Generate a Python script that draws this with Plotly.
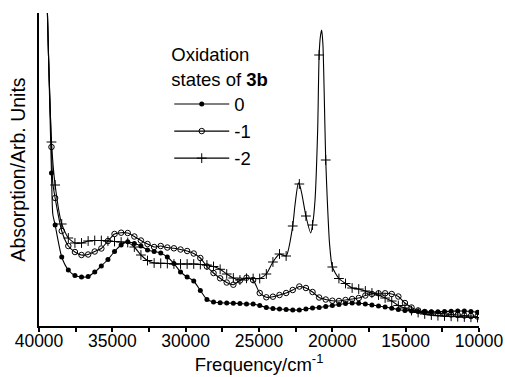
import plotly.graph_objects as go

# Frequencies (cm^-1) at which the curves are sampled (marker positions)
freq = [39800, 39150, 38900, 38450, 38000, 37550, 37100, 36650, 36200, 35750,
        35300, 34850, 34400, 33950, 33500, 33050, 32600, 32150, 31700, 31250,
        30800, 30350, 29900, 29450, 29000, 28550, 28100, 27650, 27200, 26750,
        26300, 25850, 25400, 24950, 24500, 24050, 23600, 23150, 22700, 22250,
        21800, 21350, 20900, 20450, 20000, 19550, 19100, 18650, 18200, 17750,
        17300, 16850, 16400, 15950, 15500, 15050, 14600, 14150, 13700, 13250,
        12800, 12350, 11900, 11450, 11000, 10550, 10100]

# Oxidation state 0
abs_0 = [5.26, 1.53, 1.01, 0.69, 0.56, 0.505, 0.49, 0.495, 0.54, 0.60,
         0.665, 0.745, 0.81, 0.843, 0.825, 0.80, 0.76, 0.745, 0.73, 0.69,
         0.625, 0.54, 0.49, 0.45, 0.355, 0.265, 0.24, 0.233, 0.23, 0.227,
         0.225, 0.22, 0.22, 0.205, 0.185, 0.175, 0.17, 0.165, 0.16, 0.16,
         0.17, 0.18, 0.185, 0.195, 0.205, 0.215, 0.225, 0.23, 0.227, 0.22,
         0.21, 0.20, 0.19, 0.177, 0.165, 0.155, 0.15, 0.145, 0.143, 0.143,
         0.143, 0.145, 0.148, 0.15, 0.15, 0.145, 0.137]
# Oxidation state -1
abs_1 = [5.26, 1.79, 1.28, 0.95, 0.80, 0.74, 0.71, 0.715, 0.745, 0.775,
         0.85, 0.92, 0.933, 0.93, 0.895, 0.855, 0.82, 0.79, 0.80, 0.785,
         0.777, 0.765, 0.75, 0.725, 0.68, 0.595, 0.53, 0.477, 0.435, 0.413,
         0.455, 0.483, 0.46, 0.33, 0.287, 0.293, 0.31, 0.33, 0.36, 0.395,
         0.38, 0.34, 0.285, 0.265, 0.253, 0.25, 0.26, 0.27, 0.28, 0.305,
         0.32, 0.327, 0.327, 0.32, 0.295, 0.23, 0.185, 0.155, 0.14, 0.133,
         0.127, 0.12, 0.115, 0.11, 0.105, 0.10, 0.095]
# Oxidation state -2
abs_2 = [5.26, 1.84, 1.41, 1.02, 0.88, 0.83, 0.83, 0.85, 0.855, 0.855,
         0.85, 0.845, 0.84, 0.835, 0.79, 0.71, 0.655, 0.63, 0.627, 0.625,
         0.62, 0.62, 0.62, 0.62, 0.615, 0.61, 0.595, 0.567, 0.52, 0.48,
         0.46, 0.477, 0.475, 0.475, 0.52, 0.64, 0.72, 0.70, 1.00, 1.42,
         1.10, 1.01, 2.71, 1.66, 0.59, 0.475, 0.425, 0.38, 0.37, 0.35,
         0.33, 0.31, 0.28, 0.25, 0.205, 0.18, 0.155, 0.135, 0.12, 0.11,
         0.103, 0.10, 0.097, 0.093, 0.09, 0.087, 0.085]

# Additional line-only readings (between markers) where the curves bend sharply
extra_freq_0 = [39350, 39060]
extra_abs_0 = [2.70, 1.12]
extra_freq_1 = [39350, 39060]
extra_abs_1 = [2.70, 1.43]
extra_freq_2 = [39350, 22546, 22320, 22090, 21475, 21180, 21000, 20810, 20725,
                20640, 20500, 20344, 20194]
extra_abs_2 = [2.70, 1.21, 1.43, 1.33, 0.93, 1.26, 1.96, 2.90, 2.96,
               2.81, 1.96, 1.26, 0.83]

series = [
    ("0", abs_0, extra_freq_0, extra_abs_0, dict(symbol="circle", size=5, color="black")),
    ("-1", abs_1, extra_freq_1, extra_abs_1,
     dict(symbol="circle-open", size=5.5, color="black", line=dict(width=1, color="black"))),
    ("-2", abs_2, extra_freq_2, extra_abs_2,
     dict(symbol="cross-thin-open", size=7, color="black", line=dict(width=1, color="black"))),
]

fig = go.Figure()
for name, ys, ef, ea, mk in series:
    pts = sorted(zip(freq + ef, ys + ea), key=lambda p: -p[0])
    fig.add_trace(go.Scatter(x=[p[0] for p in pts], y=[p[1] for p in pts], mode="lines",
                             line=dict(color="black", width=1.1, shape="spline", smoothing=0.6),
                             showlegend=False, hoverinfo="skip"))
    fig.add_trace(go.Scatter(x=freq, y=ys, mode="markers", marker=mk, showlegend=False))
    fig.add_trace(go.Scatter(x=[None], y=[None], mode="lines+markers", name=name,
                             line=dict(color="black", width=1.1), marker=mk))

font = "Liberation Sans, Arial, sans-serif"
fig.update_layout(
    width=505, height=377,
    margin=dict(l=39, r=26, t=13, b=51),
    paper_bgcolor="white", plot_bgcolor="white",
    font=dict(family=font, color="black", size=18),
    showlegend=True,
    legend=dict(x=0.296, y=0.922, xanchor="left", yanchor="top",
                bgcolor="rgba(0,0,0,0)", font=dict(size=18.5),
                title=dict(text="Oxidation<br>states of <b>3b</b>", font=dict(size=18.5)),
                itemwidth=55, tracegroupgap=0),
    xaxis=dict(range=[40000, 10000], tickmode="linear", tick0=10000, dtick=5000,
               tickformat="d", automargin=False, ticklabelstandoff=-6,
               ticks="outside", ticklen=4, tickwidth=1.5, tickcolor="black",
               showline=True, linewidth=2, linecolor="black", showgrid=False, zeroline=False,
               tickfont=dict(size=17.5),
               minor=dict(dtick=2500, tick0=10000, ticks="outside", ticklen=4, tickwidth=1.5,
                          tickcolor="black", showgrid=False),
               title=dict(text="Frequency/cm<sup>-1</sup>", standoff=0, font=dict(size=18.5))),
    yaxis=dict(range=[0, 3.13], showticklabels=False, ticks="", showline=True, automargin=False,
               linewidth=2, linecolor="black", showgrid=False, zeroline=False,
               title=dict(text="Absorption/Arb. Units", standoff=6, font=dict(size=19.5))),
)

fig.write_html("out.html")
